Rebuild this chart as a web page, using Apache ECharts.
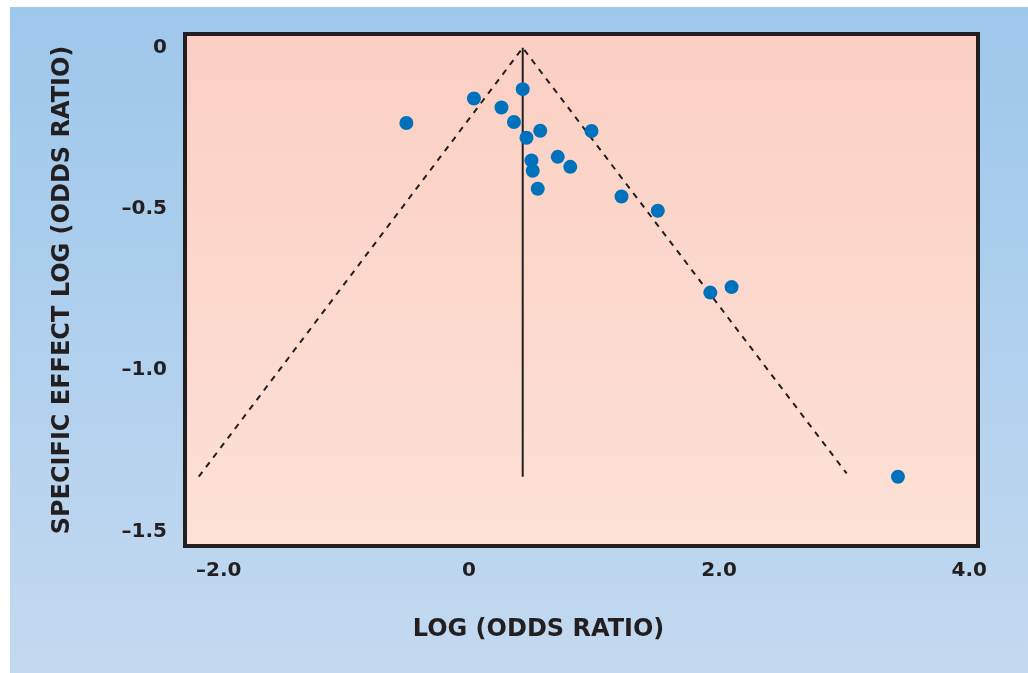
<!DOCTYPE html>
<html>
<head>
<meta charset="utf-8">
<script src="https://cdn.jsdelivr.net/npm/echarts@6/dist/echarts.min.js"></script>
<style>
    html, body { margin: 0; padding: 0; background: #ffffff; }
    #chart { position: absolute; left: 10px; top: 7px; width: 1018px; height: 666px; }
</style>
</head>
<body>
<div id="chart"></div>
<script>
// studies: log odds ratio vs specific effect
const studyX = [-0.50, 0.04, 0.26, 0.43, 0.36, 0.57, 0.46, 0.50, 0.51, 0.71, 0.81, 0.55, 0.98, 1.22, 1.51, 1.93, 2.10, 3.43];
const studyY = [-0.233, -0.157, -0.185, -0.128, -0.230, -0.257, -0.279, -0.349, -0.381, -0.338, -0.369, -0.437, -0.258, -0.461, -0.505, -0.759, -0.742, -1.330];

// funnel (dashed) and centre line
const funnelX = [-2.16, 0.43, 3.02];
const funnelY = [-1.33, 0, -1.32];
const centreX = [0.43, 0.43];
const centreY = [0, -1.33];

const xTicks = [-2, 0, 2, 4];
const yTicks = [0, -0.5, -1, -1.5];

const ink = '#231F20';
const font = '"DejaVu Sans", sans-serif';

function fmt(v) {
    if (v === 0) return '0';
    return (v < 0 ? '\u2013' : '') + Math.abs(v).toFixed(1);
}

const zip = (a, b) => a.map((v, i) => [v, b[i]]);

const chart = echarts.init(document.getElementById('chart'));

const option = {
    backgroundColor: new echarts.graphic.LinearGradient(0, 0, 0, 1, [
        { offset: 0, color: '#9DC7EB' },
        { offset: 1, color: '#C3D9F0' }
    ]),
    animation: false,
    grid: {
        left: 175,
        right: 50,
        top: 27,
        bottom: 127,
        show: true,
        borderWidth: 4,
        borderColor: ink,
        backgroundColor: new echarts.graphic.LinearGradient(0, 0, 0, 1, [
            { offset: 0, color: '#FBCFC3' },
            { offset: 1, color: '#FDE1D6' }
        ])
    },
    xAxis: {
        type: 'value',
        min: -2.27,
        max: 4.07,
        name: 'LOG (ODDS RATIO)',
        nameLocation: 'middle',
        nameGap: 72,
        nameTextStyle: {
            color: ink, fontFamily: font, fontWeight: 'bold', fontSize: 24,
            padding: [0, 86, 0, 0]
        },
        axisLine: { show: false },
        axisTick: { show: false },
        splitLine: { show: false },
        axisLabel: {
            customValues: xTicks,
            formatter: fmt,
            color: ink,
            fontFamily: font,
            fontWeight: 'bold',
            fontSize: 20,
            margin: 15
        }
    },
    yAxis: {
        type: 'value',
        min: -1.545,
        max: 0.043,
        name: 'SPECIFIC EFFECT LOG (ODDS RATIO)',
        nameLocation: 'middle',
        nameRotate: 90,
        nameGap: 110,
        nameTextStyle: { color: ink, fontFamily: font, fontWeight: 'bold', fontSize: 24 },
        axisLine: { show: false },
        axisTick: { show: false },
        splitLine: { show: false },
        axisLabel: {
            customValues: yTicks,
            formatter: fmt,
            color: ink,
            fontFamily: font,
            fontWeight: 'bold',
            fontSize: 20,
            margin: 18
        }
    },
    series: [
        {
            type: 'line',
            data: zip(funnelX, funnelY),
            symbol: 'none',
            lineStyle: { color: ink, width: 2, type: [6, 6] },
            z: 2
        },
        {
            type: 'line',
            data: zip(centreX, centreY),
            symbol: 'none',
            lineStyle: { color: ink, width: 2 },
            z: 2
        },
        {
            type: 'scatter',
            data: zip(studyX, studyY),
            symbolSize: 14,
            itemStyle: { color: '#0072BC', opacity: 1 },
            z: 3
        }
    ]
};

chart.setOption(option);
</script>
</body>
</html>
